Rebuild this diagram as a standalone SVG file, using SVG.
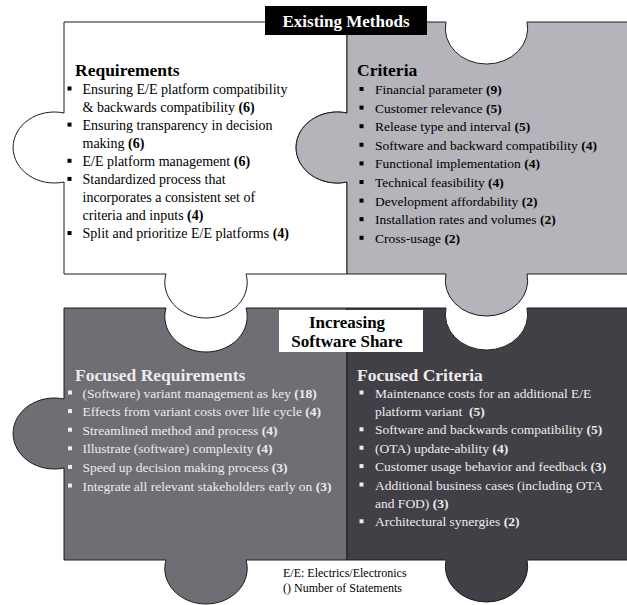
<svg xmlns="http://www.w3.org/2000/svg" width="627" height="605" viewBox="0 0 627 605">
<style>
.pc{stroke:#1c1c1c;stroke-width:1}
.t{font-family:"Liberation Serif","Times New Roman",serif;font-size:13.5px}
.t14{font-size:14px}
.h{font-family:"Liberation Serif","Times New Roman",serif;font-size:17.5px;font-weight:bold}
.ttl{font-family:"Liberation Serif","Times New Roman",serif;font-size:17px;font-weight:bold;text-anchor:middle}
.b{font-family:"Liberation Serif","Times New Roman",serif;font-weight:bold}
.dk{fill:#000}
.lt{fill:#ececec}
</style>
<rect width="627" height="605" fill="#fff"/>
<defs>
<rect id="sq" width="4" height="4"/>
</defs>
<g id="focused-requirements">
<path class="pc" fill="#6f6e74" d="M64,308 H166 A41.2,35.5 0 1 0 246,308 H347 V560 H246 A41.2,35.5 0 1 1 166,560 H64 V468 A41.2,35.5 0 1 1 64,399 Z"/>
<g class="lt">
<text class="h" x="75" y="381">Focused Requirements</text>
<use href="#sq" x="68" y="390.5"/><text class="t" x="82.5" y="397.5">(Software) variant management as key <tspan class="b">(18)</tspan></text>
<use href="#sq" x="68" y="409.1"/><text class="t" x="82.5" y="416.1">Effects from variant costs over life cycle <tspan class="b">(4)</tspan></text>
<use href="#sq" x="68" y="427.7"/><text class="t" x="82.5" y="434.7">Streamlined method and process <tspan class="b">(4)</tspan></text>
<use href="#sq" x="68" y="446.3"/><text class="t" x="82.5" y="453.3">Illustrate (software) complexity <tspan class="b">(4)</tspan></text>
<use href="#sq" x="68" y="464.9"/><text class="t" x="82.5" y="471.9">Speed up decision making process <tspan class="b">(3)</tspan></text>
<use href="#sq" x="68" y="483.5"/><text class="t" x="82.5" y="490.5">Integrate all relevant stakeholders early on <tspan class="b">(3)</tspan></text>
</g>
</g>
<g id="focused-criteria">
<path class="pc" fill="#414046" d="M347,308 H446 A41.2,35.5 0 1 0 527,308 H640 V560 H527 A41.2,35.5 0 1 1 446,560 H347 Z"/>
<g class="lt">
<text class="h" x="357" y="381">Focused Criteria</text>
<use href="#sq" x="359.5" y="390.5"/><text class="t" x="375" y="397.5">Maintenance costs for an additional E/E</text>
<text class="t" x="375" y="415.9" style="white-space:pre">platform variant  <tspan class="b">(5)</tspan></text>
<use href="#sq" x="359.5" y="427.3"/><text class="t" x="375" y="434.3">Software and backwards compatibility <tspan class="b">(5)</tspan></text>
<use href="#sq" x="359.5" y="445.7"/><text class="t" x="375" y="452.7">(OTA) update-ability <tspan class="b">(4)</tspan></text>
<use href="#sq" x="359.5" y="464.1"/><text class="t" x="375" y="471.1">Customer usage behavior and feedback <tspan class="b">(3)</tspan></text>
<use href="#sq" x="359.5" y="482.5"/><text class="t" x="375" y="489.5">Additional business cases (including OTA</text>
<text class="t" x="375" y="507.9">and FOD) <tspan class="b">(3)</tspan></text>
<use href="#sq" x="359.5" y="519.3"/><text class="t" x="375" y="526.3">Architectural synergies <tspan class="b">(2)</tspan></text>
</g>
</g>
<g id="requirements">
<path class="pc" fill="#ffffff" d="M64,22 H347 V113 A41.2,35.5 0 1 0 347,182 V274 H246 A41.2,35.5 0 1 1 166,274 H64 V182 A41.2,35.5 0 1 1 64,113 Z"/>
<g class="dk">
<text class="h" x="75" y="76">Requirements</text>
<use href="#sq" x="67.5" y="86.5"/><text class="t t14" x="82.5" y="93.5">Ensuring E/E platform compatibility</text>
<text class="t t14" x="82.5" y="111.5">&amp; backwards compatibility <tspan class="b">(6)</tspan></text>
<use href="#sq" x="67.5" y="122.6"/><text class="t t14" x="82.5" y="129.6">Ensuring transparency in decision</text>
<text class="t t14" x="82.5" y="147.6">making <tspan class="b">(6)</tspan></text>
<use href="#sq" x="67.5" y="158.8"/><text class="t t14" x="82.5" y="165.8">E/E platform management <tspan class="b">(6)</tspan></text>
<use href="#sq" x="67.5" y="176.9"/><text class="t t14" x="82.5" y="183.9">Standardized process that</text>
<text class="t t14" x="82.5" y="201.9">incorporates a consistent set of</text>
<text class="t t14" x="82.5" y="219.9">criteria and inputs <tspan class="b">(4)</tspan></text>
<use href="#sq" x="67.5" y="231"/><text class="t t14" x="82.5" y="238">Split and prioritize E/E platforms <tspan class="b">(4)</tspan></text>
</g>
</g>
<g id="criteria">
<path class="pc" fill="#b5b4ba" d="M347,22 H446 A41.2,35.5 0 1 0 527,22 H640 V274 H527 A41.2,35.5 0 1 1 446,274 H347 V182 A41.2,35.5 0 1 1 347,113 Z"/>
<g class="dk">
<text class="h" x="357" y="76">Criteria</text>
<use href="#sq" x="359.5" y="87"/><text class="t" x="375" y="94">Financial parameter <tspan class="b">(9)</tspan></text>
<use href="#sq" x="359.5" y="105.6"/><text class="t" x="375" y="112.6">Customer relevance <tspan class="b">(5)</tspan></text>
<use href="#sq" x="359.5" y="124.2"/><text class="t" x="375" y="131.2">Release type and interval <tspan class="b">(5)</tspan></text>
<use href="#sq" x="359.5" y="142.8"/><text class="t" x="375" y="149.8">Software and backward compatibility <tspan class="b">(4)</tspan></text>
<use href="#sq" x="359.5" y="161.4"/><text class="t" x="375" y="168.4">Functional implementation <tspan class="b">(4)</tspan></text>
<use href="#sq" x="359.5" y="180"/><text class="t" x="375" y="187">Technical feasibility <tspan class="b">(4)</tspan></text>
<use href="#sq" x="359.5" y="198.6"/><text class="t" x="375" y="205.6">Development affordability <tspan class="b">(2)</tspan></text>
<use href="#sq" x="359.5" y="217.2"/><text class="t" x="375" y="224.2">Installation rates and volumes <tspan class="b">(2)</tspan></text>
<use href="#sq" x="359.5" y="235.8"/><text class="t" x="375" y="242.8">Cross-usage <tspan class="b">(2)</tspan></text>
</g>
</g>
<g id="title-existing">
<rect x="265" y="6" width="162" height="29" fill="#000"/>
<text class="ttl" x="346" y="26.5" fill="#fff">Existing Methods</text>
</g>
<g id="title-increasing">
<rect x="279" y="310" width="144" height="42" fill="#fff"/>
<text class="ttl" x="347" y="327.5" fill="#000">Increasing</text>
<text class="ttl" x="347" y="346.5" fill="#000">Software Share</text>
</g>
<g id="connectors"/>
<g id="legend" class="dk">
<text class="t" x="283" y="577" style="font-size:12px">E/E: Electrics/Electronics</text>
<text class="t" x="283" y="592" style="font-size:12px">() Number of Statements</text>
</g>
</svg>
